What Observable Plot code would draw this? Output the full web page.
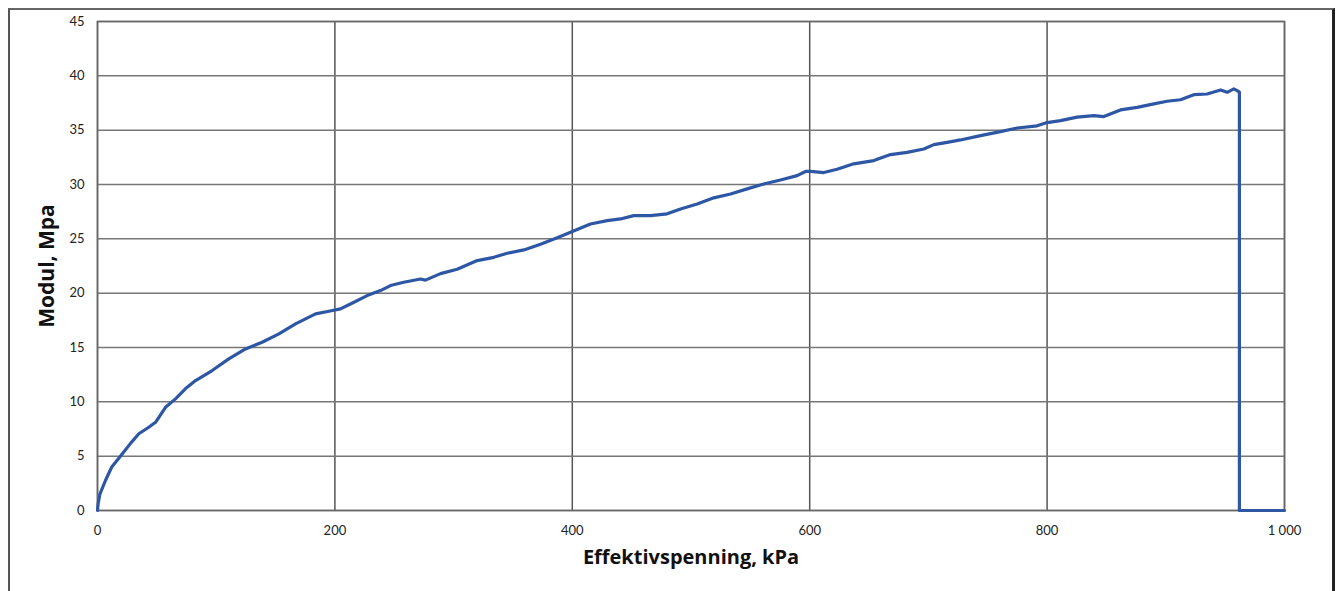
<!DOCTYPE html>
<html>
<head>
<meta charset="utf-8">
<script src="https://cdn.jsdelivr.net/npm/d3@7"></script>
<script src="https://cdn.jsdelivr.net/npm/@observablehq/plot@0.6"></script>
<style>
  html, body { margin: 0; padding: 0; background: #fff; }
  #wrap { position: relative; width: 1338px; height: 591px; overflow: hidden; }
  #border { position: absolute; left: 8px; top: 8px; width: 1322px; height: 620px;
            border-left: 2px solid #555; border-top: 2px solid #666; border-right: 3px solid #222; }
  #chart { position: absolute; left: 0; top: 0; }
</style>
</head>
<body>
<div id="wrap"><div id="border"></div><div id="chart"></div></div>
<script>
const kPa = [0, 0.5, 2, 6.7, 12, 20.8, 28, 34.8, 43.2, 48.9, 57.3, 65.7, 74, 82.6, 96.6, 110.6, 124.7, 138.7, 152.8, 166.8, 183.7, 194.9, 204.7, 213.1, 227.2, 238.4, 246.8, 258, 272.1, 276.3, 289, 303, 319.9, 333.9, 345.2, 359.2, 373.2, 387.3, 398.5, 415.3, 429.4, 440.6, 451.8, 465.9, 479.9, 491.2, 505.2, 519.2, 533.3, 547.3, 561.3, 575.4, 589.4, 596.5, 600.7, 611.9, 623.1, 637.1, 654, 668.1, 682.1, 696.1, 704.6, 715.8, 727, 743.9, 760.7, 774.8, 791.6, 800, 811.3, 825.3, 839.3, 847.8, 861.8, 875.9, 889.9, 901.1, 912.4, 923.6, 934.8, 946.1, 951.7, 957.3, 960.1, 962, 962, 1000];
const modulMPa = [0, 0.6, 1.5, 2.76, 4.0, 5.2, 6.2, 7.06, 7.66, 8.12, 9.5, 10.27, 11.2, 11.96, 12.88, 13.95, 14.87, 15.48, 16.26, 17.18, 18.1, 18.34, 18.55, 19.0, 19.78, 20.24, 20.7, 21.0, 21.3, 21.2, 21.8, 22.2, 23.0, 23.3, 23.67, 23.98, 24.5, 25.1, 25.6, 26.37, 26.68, 26.83, 27.14, 27.14, 27.3, 27.75, 28.2, 28.77, 29.13, 29.6, 30.05, 30.42, 30.82, 31.2, 31.2, 31.1, 31.4, 31.9, 32.2, 32.75, 32.96, 33.27, 33.67, 33.88, 34.1, 34.5, 34.87, 35.2, 35.4, 35.7, 35.88, 36.2, 36.34, 36.25, 36.86, 37.1, 37.42, 37.66, 37.8, 38.27, 38.33, 38.7, 38.48, 38.8, 38.64, 38.5, 0, 0];

const xTicks = [0, 200, 400, 600, 800, 1000];
const xTickLabels = ["0", "200", "400", "600", "800", "1 000"];
const yTicks = [0, 5, 10, 15, 20, 25, 30, 35, 40, 45];
const xTitle = "Effektivspenning, kPa";
const yTitle = "Modul, Mpa";

const data = kPa.map((x, i) => ({x, y: modulMPa[i]}));

const chart = Plot.plot({
  width: 1338,
  height: 591,
  marginLeft: 97,
  marginRight: 54,
  marginTop: 21,
  marginBottom: 81,
  style: {fontFamily: "Lato, 'Open Sans', sans-serif", color: "#222", background: "transparent"},
  x: {domain: [0, 1000]},
  y: {domain: [0, 45]},
  marks: [
    Plot.gridX(xTicks, {stroke: "#555", strokeOpacity: 1, strokeWidth: 1.5}),
    Plot.gridY(yTicks, {stroke: "#777", strokeOpacity: 1, strokeWidth: 1.5}),
    Plot.frame({stroke: "#666", strokeWidth: 1.5}),
    Plot.axisX(xTicks, {tickSize: 0, tickPadding: 15, fontSize: 13, label: null,
      tickFormat: (d) => xTickLabels[xTicks.indexOf(d)]}),
    Plot.axisY(yTicks, {tickSize: 0, tickPadding: 13, fontSize: 13, label: null}),
    Plot.text([xTitle], {frameAnchor: "bottom", dy: 53, fontSize: 20, fontWeight: "bold", fill: "#111",
      fontFamily: "'Open Sans', sans-serif"}),
    Plot.text([yTitle], {frameAnchor: "left", textAnchor: "middle", dx: -50, rotate: -90, fontSize: 21,
      fontWeight: "bold", fill: "#111", fontFamily: "'Open Sans', sans-serif"}),
    Plot.line(data, {x: "x", y: "y", stroke: "#2d57a5", strokeWidth: 3.2, strokeLinejoin: "round"})
  ]
});
document.getElementById("chart").appendChild(chart);
</script>
</body>
</html>
